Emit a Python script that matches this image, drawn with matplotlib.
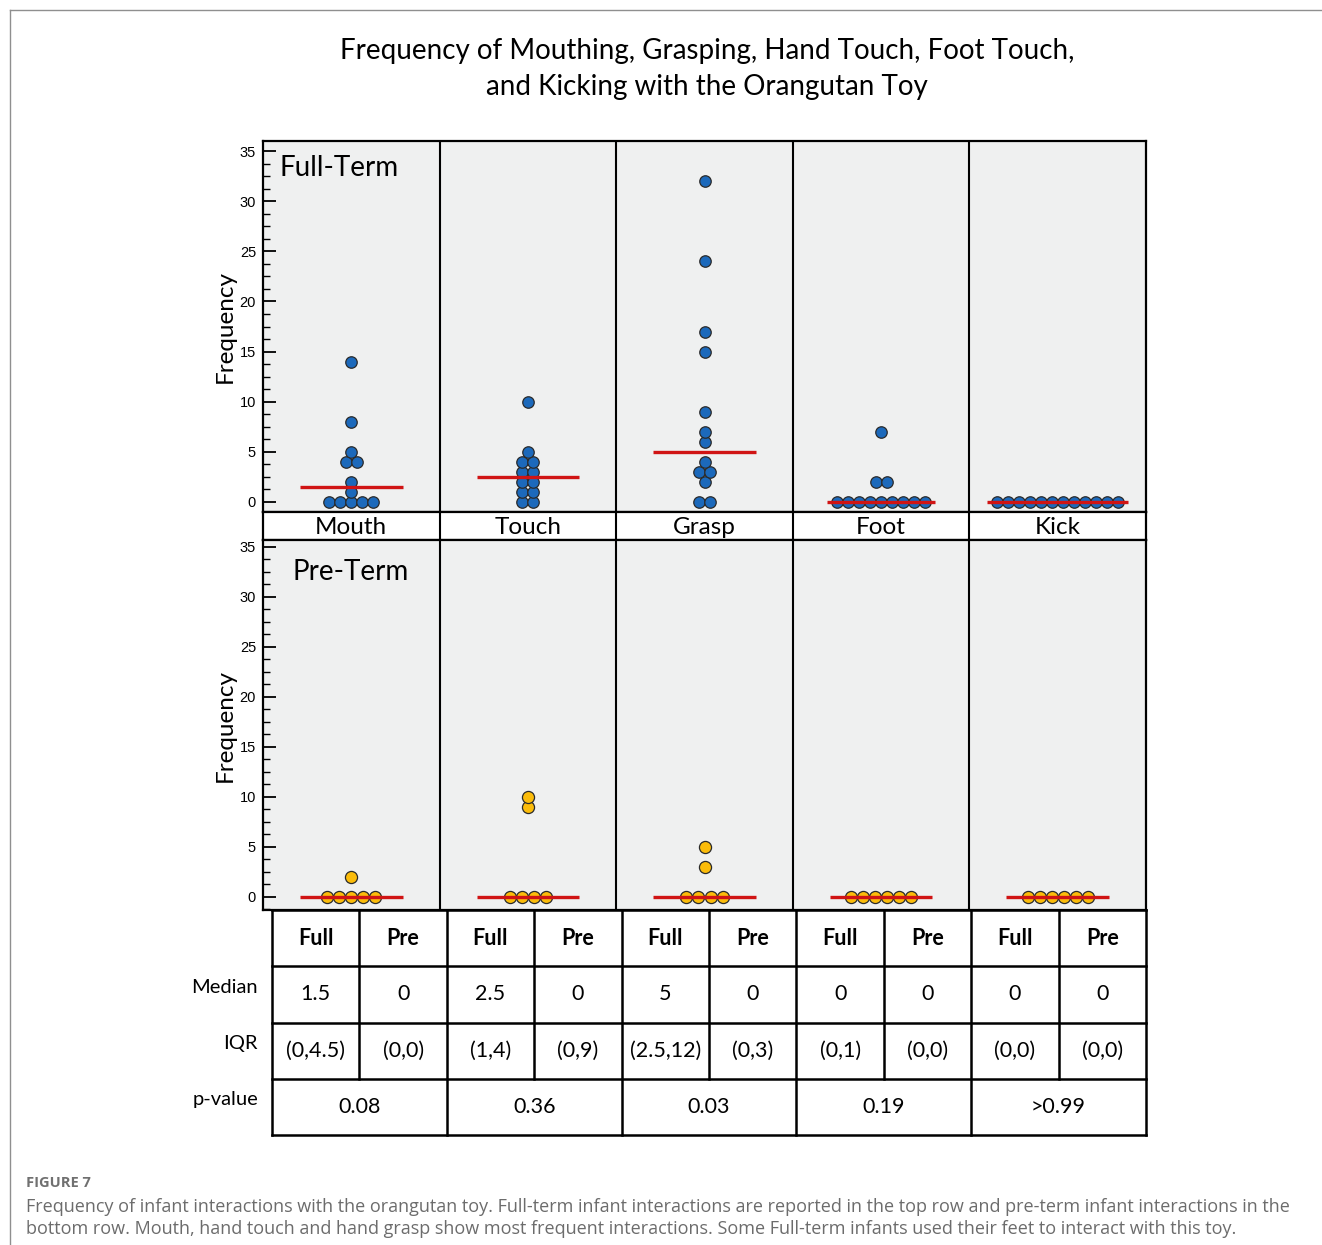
import numpy as np
import matplotlib.pyplot as plt
from matplotlib.lines import Line2D
from matplotlib.ticker import AutoMinorLocator

W, H = 1322, 1245

categories = ["Mouth", "Touch", "Grasp", "Foot", "Kick"]

# full-term infants
full_mouth = [0, 0, 0, 0, 0, 1, 2, 4, 4, 5, 8, 14]
full_touch = [0, 0, 1, 1, 2, 2, 3, 3, 4, 4, 5, 10]
full_grasp = [0, 0, 2, 3, 3, 4, 6, 7, 9, 15, 17, 24, 32]
full_foot = [0, 0, 0, 0, 0, 0, 0, 0, 0, 2, 2, 7]
full_kick = [0, 0, 0, 0, 0, 0, 0, 0, 0, 0, 0, 0]

# pre-term infants
pre_mouth = [0, 0, 0, 0, 0, 2]
pre_touch = [0, 0, 0, 0, 9, 10]
pre_grasp = [0, 0, 0, 0, 3, 5]
pre_foot = [0, 0, 0, 0, 0, 0]
pre_kick = [0, 0, 0, 0, 0, 0]

full_median = [1.5, 2.5, 5, 0, 0]
pre_median = [0, 0, 0, 0, 0]
full_iqr = ["(0,4.5)", "(1,4)", "(2.5,12)", "(0,1)", "(0,0)"]
pre_iqr = ["(0,0)", "(0,9)", "(0,3)", "(0,0)", "(0,0)"]
p_values = ["0.08", "0.36", "0.03", "0.19", ">0.99"]

title = "Frequency of Mouthing, Grasping, Hand Touch, Foot Touch,\nand Kicking with the Orangutan Toy"
caption_head = "FIGURE 7"
caption = ("Frequency of infant interactions with the orangutan toy. Full-term infant interactions are reported in the top row and pre-term infant interactions in the\n"
           "bottom row. Mouth, hand touch and hand grasp show most frequent interactions. Some Full-term infants used their feet to interact with this toy.")

FONT = "Lato"


def box(x0, y0, x1, y1):
    return [x0 / W, 1 - y1 / H, (x1 - x0) / W, (y1 - y0) / H]


def panel(ax, groups, medians, color, spacing, s, label, lab_xy, ylim):
    ax.set_facecolor("#eff0f0")
    for i, (vals, med) in enumerate(zip(groups, medians)):
        vals = np.array(vals)
        xs = np.zeros(len(vals))
        widest = 1
        for v in np.unique(vals):
            idx = np.where(vals == v)[0]
            xs[idx] = i + (np.arange(len(idx)) - (len(idx) - 1) / 2) * spacing
            widest = max(widest, len(idx))
        ax.scatter(xs, vals, s=s, color=color, edgecolor="#2a2a2a", linewidth=0.9, zorder=3)
        half = max(0.29, (widest - 1) / 2 * spacing + 0.055)
        ax.plot([i - half, i + half], [med, med], color="#d01414", lw=2.4,
                solid_capstyle="butt", zorder=4)
    for b in np.arange(0.5, len(groups) - 1, 1.0):
        ax.axvline(b, color="black", lw=1.5, zorder=2)
    ax.set_xlim(-0.5, len(groups) - 0.5)
    ax.set_ylim(*ylim)
    ax.set_xticks([])
    ax.set_yticks(range(0, 36, 5))
    ax.yaxis.set_minor_locator(AutoMinorLocator(4))
    ax.tick_params(axis="y", direction="in", length=9, width=1.3, pad=5, labelsize=10.5)
    ax.tick_params(axis="y", which="minor", direction="in", length=5, width=1)
    for lab in ax.get_yticklabels():
        lab.set_family("Liberation Sans")
    for sp in ax.spines.values():
        sp.set_linewidth(1.6)
    ax.set_ylabel("Frequency", fontsize=17.5, family=FONT, labelpad=3)
    ax.text(lab_xy[0], lab_xy[1], label, transform=ax.transAxes, fontsize=20,
            family=FONT, ha="left", va="center")


fig = plt.figure(figsize=(W / 100, H / 100), dpi=100)

# outer frame
fig.add_artist(Line2D([10 / W, 1], [1 - 10 / H, 1 - 10 / H], transform=fig.transFigure,
                      color="#8f8f8f", lw=1))
fig.add_artist(Line2D([10 / W, 10 / W], [0, 1 - 10 / H], transform=fig.transFigure,
                      color="#8f8f8f", lw=1))

fig.text(707 / W, 1 - 69 / H, title, ha="center", va="center", fontsize=20,
         family=FONT, linespacing=1.45)

ax_top = fig.add_axes(box(263, 141, 1146, 512))
panel(ax_top, [full_mouth, full_touch, full_grasp, full_foot, full_kick], full_median,
      "#1c69bb", 0.0625, 68, "Full-Term", (0.019, 0.927), (-1, 36))

ax_strip = fig.add_axes(box(263, 512, 1146, 540))
ax_strip.set_xlim(-0.5, len(categories) - 0.5)
ax_strip.set_ylim(0, 1)
for i, c in enumerate(categories):
    ax_strip.text(i, 0.45, c, ha="center", va="center", fontsize=17.5, family=FONT)
for b in np.arange(0.5, len(categories) - 1, 1.0):
    ax_strip.axvline(b, color="black", lw=1.5)
ax_strip.set_xticks([])
ax_strip.set_yticks([])
for sp in ax_strip.spines.values():
    sp.set_linewidth(1.6)

ax_bot = fig.add_axes(box(263, 540, 1146, 910))
panel(ax_bot, [pre_mouth, pre_touch, pre_grasp, pre_foot, pre_kick], pre_median,
      "#fbbc0a", 0.068, 76, "Pre-Term", (0.033, 0.914), (-1.33, 35.67))

# summary table
ax_tab = fig.add_axes(box(272, 910, 1146, 1135))
ncol = 2 * len(categories)
ax_tab.set_xlim(0, ncol)
ax_tab.set_ylim(4, 0)
ax_tab.axis("off")
for r in range(5):
    ax_tab.plot([0, ncol], [r, r], color="black", lw=1.8, clip_on=False)
for c in range(ncol + 1):
    y1 = 4 if c % 2 == 0 else 3
    ax_tab.plot([c, c], [0, y1], color="black", lw=1.8, clip_on=False)

for i in range(len(categories)):
    ax_tab.text(2 * i + 0.5, 0.5, "Full", ha="center", va="center", fontsize=15.5,
                fontweight="bold", family=FONT)
    ax_tab.text(2 * i + 1.5, 0.5, "Pre", ha="center", va="center", fontsize=15.5,
                fontweight="bold", family=FONT)
    ax_tab.text(2 * i + 0.5, 1.5, f"{full_median[i]:g}", ha="center", va="center",
                fontsize=15.5, family=FONT)
    ax_tab.text(2 * i + 1.5, 1.5, f"{pre_median[i]:g}", ha="center", va="center",
                fontsize=15.5, family=FONT)
    ax_tab.text(2 * i + 0.5, 2.5, full_iqr[i], ha="center", va="center", fontsize=15.5,
                family=FONT)
    ax_tab.text(2 * i + 1.5, 2.5, pre_iqr[i], ha="center", va="center", fontsize=15.5,
                family=FONT)
    ax_tab.text(2 * i + 1, 3.5, p_values[i], ha="center", va="center", fontsize=15.5,
                family=FONT)

for r, lab in enumerate(["Median", "IQR", "p-value"]):
    ax_tab.text(-0.16, r + 1.37, lab, ha="right", va="center", fontsize=14.5, family=FONT)

fig.text(26 / W, 1 - 1183 / H, caption_head, ha="left", va="center", fontsize=10.5,
         fontweight="bold", family="Open Sans", color="#707070")
fig.text(26 / W, 1 - 1218 / H, caption, ha="left", va="center", fontsize=13,
         family="Open Sans", color="#6c6c6c", linespacing=1.35)

fig.savefig("out.png", dpi=100)
